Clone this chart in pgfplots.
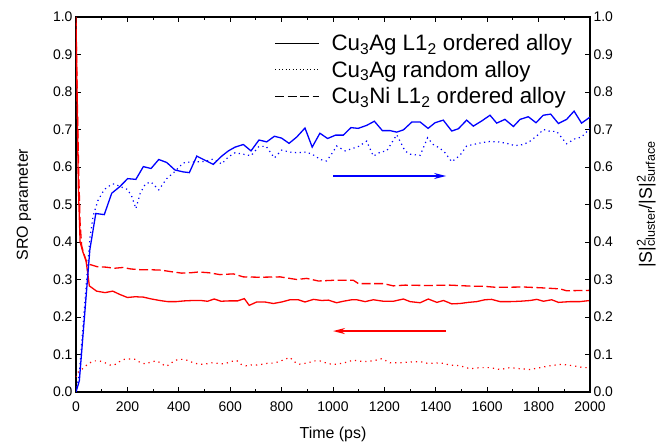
\documentclass[border=0pt]{standalone}
\usepackage{fontspec}
\setmainfont{Liberation Sans}
\usepackage{pgfplots}
\pgfplotsset{compat=1.18}
\usetikzlibrary{arrows.meta}
\begin{document}
\begin{tikzpicture}
\useasboundingbox (-76bp,-50bp) rectangle (586bp,392bp);
\pgfplotsset{
  common/.style={
    at={(0,0)}, anchor=south west, scale only axis,
    width=514bp, height=375bp,
    xmin=0, xmax=2000, ymin=0, ymax=1,
    tick align=inside, major tick length=5bp, minor tick length=3bp,
    ytick={0,0.1,0.2,0.3,0.4,0.5,0.6,0.7,0.8,0.9,1.0},
    yticklabel style={/pgf/number format/.cd, fixed, fixed zerofill, precision=1},
    tick label style={font=\fontsize{14}{16}\selectfont},
    label style={font=\fontsize{16}{18}\selectfont},
    /pgf/number format/assume math mode=true,
    axis line style={line width=1.1bp},
    tick style={line width=0.9bp, black},
  }
}
\begin{axis}[common,
  xtick={0,200,...,2000}, minor x tick num=1,
  xtick pos=both, ytick pos=left,
  xticklabel style={yshift=-6bp, /pgf/number format/.cd, fixed, precision=0, 1000 sep={}},
  xlabel={Time (ps)}, ylabel={SRO parameter},
  xlabel shift=9bp, ylabel shift=15bp,
  legend style={at={(rel axis cs:0.975,0.965)}, anchor=north east, draw=none, fill=none,
    font=\fontsize{22.4}{26}\selectfont, row sep=5bp},
  legend cell align=left,
  legend image code/.code={\draw[#1] (0bp,0bp) -- (44bp,0bp); \path (54bp,0bp);},
]
\addlegendimage{black, line width=0.8bp}
\addlegendentry{Cu\textsubscript{3}Ag L1\textsubscript{2} ordered alloy}
\addlegendimage{black, line width=0.8bp, dash pattern=on 1bp off 2.5bp}
\addlegendentry{Cu\textsubscript{3}Ag random alloy}
\addlegendimage{black, line width=0.8bp, dash pattern=on 9bp off 3.5bp}
\addlegendentry{Cu\textsubscript{3}Ni L1\textsubscript{2} ordered alloy}
% red solid
\addplot[red, line width=1.3bp, forget plot] coordinates {
(0,0.985)(5,0.75)(9,0.55)(16,0.40)(26,0.375)(39,0.35)(45,0.32)(52,0.283)(80,0.269)(113,0.265)(143,0.269)(171,0.26)(200,0.252)(230,0.254)(262,0.253)(294,0.248)(326,0.244)(357,0.241)(390,0.241)(422,0.243)(454,0.244)(486,0.244)(512,0.242)(538,0.248)(564,0.242)(596,0.243)(629,0.243)(655,0.249)(674,0.231)(703,0.24)(735,0.24)(768,0.236)(800,0.24)(833,0.246)(865,0.246)(891,0.24)(924,0.247)(956,0.244)(982,0.245)(1014,0.238)(1040,0.242)(1073,0.246)(1092,0.246)(1125,0.241)(1157,0.246)(1196,0.242)(1235,0.242)(1274,0.248)(1300,0.241)(1339,0.238)(1371,0.248)(1404,0.239)(1430,0.244)(1462,0.235)(1494,0.236)(1527,0.239)(1559,0.241)(1591,0.246)(1617,0.247)(1650,0.241)(1689,0.241)(1728,0.242)(1767,0.244)(1793,0.247)(1819,0.242)(1851,0.246)(1877,0.239)(1922,0.241)(1961,0.241)(2000,0.244)};
% red dashed
\addplot[red, line width=1.3bp, dash pattern=on 9bp off 3.5bp, forget plot] coordinates {
(0,1.0)(5,0.78)(10,0.6)(16,0.45)(22,0.39)(30,0.37)(42,0.345)(54,0.34)(83,0.334)(115,0.333)(150,0.33)(182,0.332)(214,0.328)(253,0.326)(291,0.326)(330,0.325)(369,0.321)(411,0.317)(447,0.318)(476,0.32)(518,0.318)(560,0.313)(612,0.315)(651,0.307)(716,0.306)(794,0.307)(859,0.3)(898,0.303)(943,0.296)(1005,0.298)(1079,0.298)(1099,0.289)(1196,0.289)(1235,0.283)(1280,0.285)(1365,0.284)(1455,0.285)(1546,0.282)(1585,0.282)(1637,0.279)(1741,0.28)(1806,0.278)(1883,0.275)(1909,0.27)(2000,0.271)};
% red dotted
\addplot[red, line width=1.2bp, dash pattern=on 1.2bp off 4bp, forget plot] coordinates {
(0,0.04)(3,0.05)(31,0.065)(48,0.076)(70,0.083)(91,0.083)(113,0.078)(132,0.072)(149,0.072)(169,0.081)(188,0.087)(210,0.088)(230,0.087)(249,0.079)(269,0.075)(288,0.079)(311,0.083)(330,0.078)(346,0.069)(362,0.072)(379,0.082)(398,0.087)(420,0.087)(440,0.083)(459,0.077)(482,0.074)(502,0.074)(524,0.078)(543,0.077)(567,0.075)(586,0.077)(608,0.082)(625,0.084)(642,0.074)(661,0.07)(683,0.072)(705,0.072)(725,0.074)(748,0.077)(768,0.077)(791,0.081)(811,0.087)(833,0.092)(848,0.081)(868,0.074)(888,0.076)(908,0.079)(930,0.083)(949,0.083)(971,0.078)(1000,0.073)(1040,0.077)(1079,0.085)(1118,0.081)(1157,0.083)(1190,0.089)(1222,0.078)(1261,0.078)(1300,0.08)(1339,0.081)(1371,0.076)(1417,0.078)(1455,0.072)(1494,0.07)(1533,0.062)(1572,0.065)(1611,0.065)(1650,0.06)(1689,0.065)(1728,0.062)(1767,0.06)(1806,0.065)(1845,0.07)(1890,0.074)(1935,0.07)(1974,0.065)(2000,0.065)};
\end{axis}
\begin{axis}[common,
  hide x axis, axis y line*=right,
  ylabel={|S|\rlap{\textsuperscript{2}}\textsubscript{cluster}/|S|\rlap{\textsuperscript{2}}\textsubscript{surface}},
  ylabel style={font=\fontsize{18}{20}\selectfont},
  ylabel shift=17bp,
]
% blue solid
\addplot[blue, line width=1.3bp] coordinates {
(0,0)(13,0.03)(54,0.38)(77,0.476)(110,0.473)(139,0.53)(171,0.548)(201,0.569)(233,0.567)(262,0.601)(292,0.596)(322,0.62)(353,0.612)(385,0.592)(417,0.587)(441,0.585)(470,0.629)(502,0.618)(534,0.607)(567,0.629)(593,0.643)(619,0.653)(651,0.66)(681,0.643)(712,0.672)(742,0.667)(772,0.682)(800,0.677)(829,0.663)(859,0.68)(891,0.704)(919,0.653)(949,0.69)(979,0.676)(1010,0.685)(1040,0.685)(1070,0.705)(1098,0.703)(1131,0.711)(1161,0.722)(1192,0.697)(1222,0.697)(1248,0.693)(1274,0.699)(1307,0.72)(1339,0.72)(1370,0.703)(1397,0.718)(1429,0.725)(1462,0.696)(1488,0.702)(1520,0.725)(1546,0.709)(1579,0.723)(1611,0.738)(1637,0.717)(1669,0.727)(1702,0.708)(1728,0.727)(1760,0.734)(1790,0.718)(1818,0.738)(1847,0.741)(1877,0.716)(1909,0.727)(1938,0.749)(1967,0.717)(2000,0.733)};
% blue dotted
\addplot[blue, line width=1.2bp, dash pattern=on 1.2bp off 3.5bp] coordinates {
(0,0)(13,0.05)(30,0.2)(54,0.41)(67,0.47)(85,0.51)(110,0.54)(139,0.554)(150,0.555)(171,0.548)(201,0.54)(218,0.52)(233,0.489)(250,0.53)(270,0.555)(292,0.56)(322,0.539)(353,0.569)(385,0.588)(417,0.611)(441,0.613)(470,0.614)(502,0.615)(534,0.621)(567,0.608)(593,0.627)(619,0.638)(651,0.634)(681,0.63)(712,0.655)(740,0.655)(772,0.624)(800,0.645)(830,0.64)(860,0.638)(897,0.64)(930,0.63)(950,0.62)(975,0.616)(1000,0.64)(1014,0.656)(1047,0.643)(1070,0.648)(1100,0.655)(1131,0.669)(1157,0.629)(1185,0.64)(1209,0.643)(1248,0.686)(1280,0.643)(1300,0.634)(1339,0.631)(1368,0.678)(1390,0.66)(1416,0.65)(1436,0.638)(1462,0.614)(1494,0.631)(1520,0.656)(1546,0.66)(1579,0.665)(1611,0.668)(1643,0.667)(1676,0.663)(1708,0.657)(1741,0.66)(1767,0.669)(1793,0.683)(1819,0.70)(1845,0.695)(1870,0.695)(1909,0.662)(1941,0.675)(1967,0.68)(2000,0.703)};
% arrows
\addplot[blue, line width=1.5bp, -{Stealth[length=12bp,width=6bp]}] coordinates {(1000,0.576)(1440,0.576)};
\addplot[red, line width=1.5bp, -{Stealth[length=12bp,width=6bp]}] coordinates {(1440,0.1625)(1000,0.1625)};
\end{axis}
\end{tikzpicture}
\end{document}
